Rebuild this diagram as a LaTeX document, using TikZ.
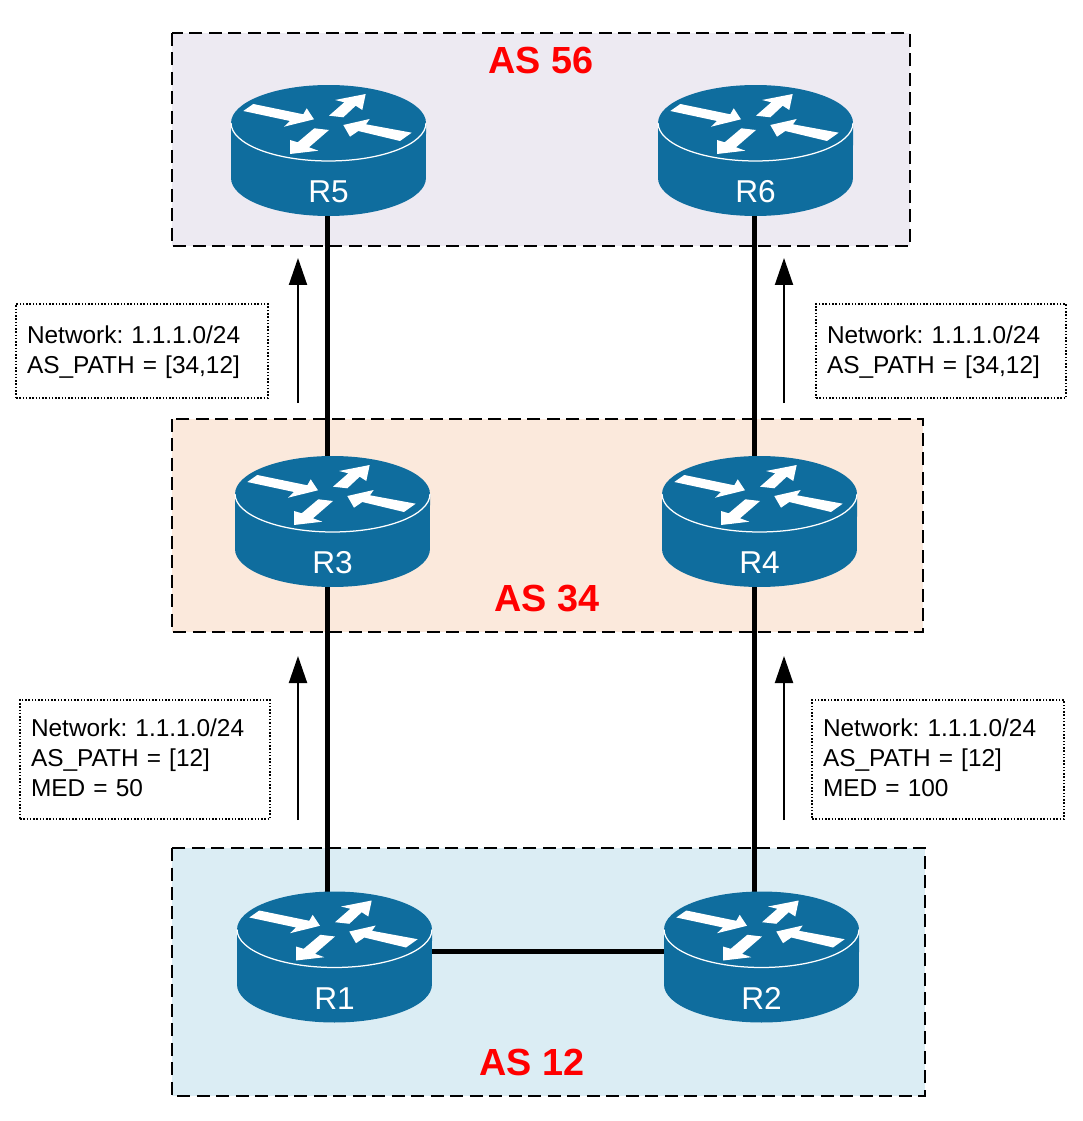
\documentclass[tikz,border=0pt]{standalone}
\usepackage{fontspec}
\setmainfont{Liberation Sans}
\usetikzlibrary{arrows.meta}
\definecolor{routerblue}{RGB}{15,109,158}
\definecolor{asviolet}{RGB}{237,234,242}
\definecolor{asorange}{RGB}{251,233,220}
\definecolor{asblue}{RGB}{219,237,244}
\pgfdeclarelayer{links}
\pgfdeclarelayer{areas}
\pgfsetlayers{areas,links,main}
\frenchspacing
\tikzset{
  asbox/.style={draw=black,line width=0.03cm,dash pattern=on 0.26cm off 0.13cm},
  aslabel/.style={text=red,font=\fontsize{21.5}{24}\selectfont\bfseries,inner sep=0pt},
  infobox/.style={draw=black,line width=0.03cm,densely dotted,align=left,inner xsep=0.22cm,inner ysep=0pt,
    font=\fontsize{13.9}{17}\selectfont},
  link/.style={line width=0.1cm,black},
  flow/.style={line width=0.04cm,-{Triangle[length=0.54cm,width=0.36cm]}},
  pics/router/.style={code={
    \fill [routerblue] (-97.5,-27.5) -- (-97.5,27.5) arc [start angle=180,end angle=360,x radius=1.95cm,y radius=0.76cm]
       -- (97.5,-27.5) arc [start angle=0,end angle=180,x radius=1.95cm,y radius=0.76cm] -- cycle;
    \draw [white,line width=0.025cm] (97.5,-27.5) arc [start angle=360,end angle=180,x radius=1.95cm,y radius=0.76cm];
    \fill [white] (-85.2,-39.5) -- (-75.2,-46.5) -- (-25.2,-36.2) -- (-21.8,-42.2) -- (-14.5,-31.2) -- (-44.5,-23.8) -- (-38.5,-29.5) -- cycle;
    \fill [white] (0.5,-34.8) -- (15.8,-48.2) -- (6.5,-50.5) -- (37.2,-56.5) -- (33.8,-40.5) -- (27.2,-44.8) -- (14.8,-33.2) -- cycle;
    \fill [white] (14.8,-25.5) -- (41.2,-31.5) -- (37.5,-26.2) -- (83.2,-17.8) -- (71.5,-9.5) -- (29.8,-19.5) -- (21.5,-13.8) -- cycle;
    \fill [white] (-38.5,3.5) -- (-38.5,-10.5) -- (-30.8,-8.2) -- (-14.2,-22.2) -- (0.5,-20.5) -- (-19.5,-3.2) -- (-10.2,0.2) -- cycle;
    \node [text=white,font=\fontsize{18}{20}\selectfont,inner sep=0pt] (label) at (0,41.5) {#1};
    \coordinate (hub) at (-1.5,-6);
  }}
}
\begin{document}
\begin{tikzpicture}[x=0.02cm,y=-0.02cm]
\useasboundingbox (0,0) rectangle (1082,1121);
% AS areas
\begin{pgfonlayer}{areas}
\draw [asbox,fill=asviolet] (172,33) rectangle (910,246);
\draw [asbox,fill=asorange] (172,419) rectangle (923,632);
\draw [asbox,fill=asblue] (172,848) rectangle (925,1096);
\end{pgfonlayer}
\node [aslabel] (as56) at (541,61) {AS 56};
\node [aslabel] (as34) at (547,599) {AS 34};
\node [aslabel] (as12) at (532,1062) {AS 12};
% routers
\pic (r5) at (328.5,150.5) {router={R5}};
\pic (r6) at (755.5,150.5) {router={R6}};
\pic (r3) at (332.5,521.5) {router={R3}};
\pic (r4) at (759.5,521.5) {router={R4}};
\pic (r1) at (334.5,957) {router={R1}};
\pic (r2) at (761.5,957) {router={R2}};
% links
\begin{pgfonlayer}{links}
\draw [link] (r5hub) -- (r5hub |- r3hub) -- (r5hub |- r1hub);
\draw [link] (r6hub) -- (r6hub |- r4hub) -- (r6hub |- r2hub);
\draw [link] (r1hub) -- (r2hub);
\end{pgfonlayer}
% updates
\node [infobox,minimum height=1.88cm,text width=4.6cm] (info53) at (142,351) {\rule{0pt}{11.8pt}Network: 1.1.1.0/24\\AS\_PATH = [34,12]};
\node [infobox,minimum height=1.88cm,text width=4.56cm] (info64) at (941,351) {\rule{0pt}{11.8pt}Network: 1.1.1.0/24\\AS\_PATH = [34,12]};
\node [infobox,minimum height=2.38cm,text width=4.56cm] (info31) at (145,759.5) {Network: 1.1.1.0/24\\AS\_PATH = [12]\\MED = 50\rule[-2.3pt]{0pt}{0pt}};
\node [infobox,minimum height=2.38cm,text width=4.6cm] (info42) at (938,759.5) {Network: 1.1.1.0/24\\AS\_PATH = [12]\\MED = 100\rule[-2.3pt]{0pt}{0pt}};
\foreach \name/\xpos/\ystart/\yend in {a/298/403/258,b/784/403/258,c/298/820/656,d/784/820/656}{
  \coordinate (\name from) at (\xpos,\ystart);
  \coordinate (\name to) at (\xpos,\yend);
  \draw [flow] (\name from) -- (\name to);
}
\end{tikzpicture}
\end{document}
